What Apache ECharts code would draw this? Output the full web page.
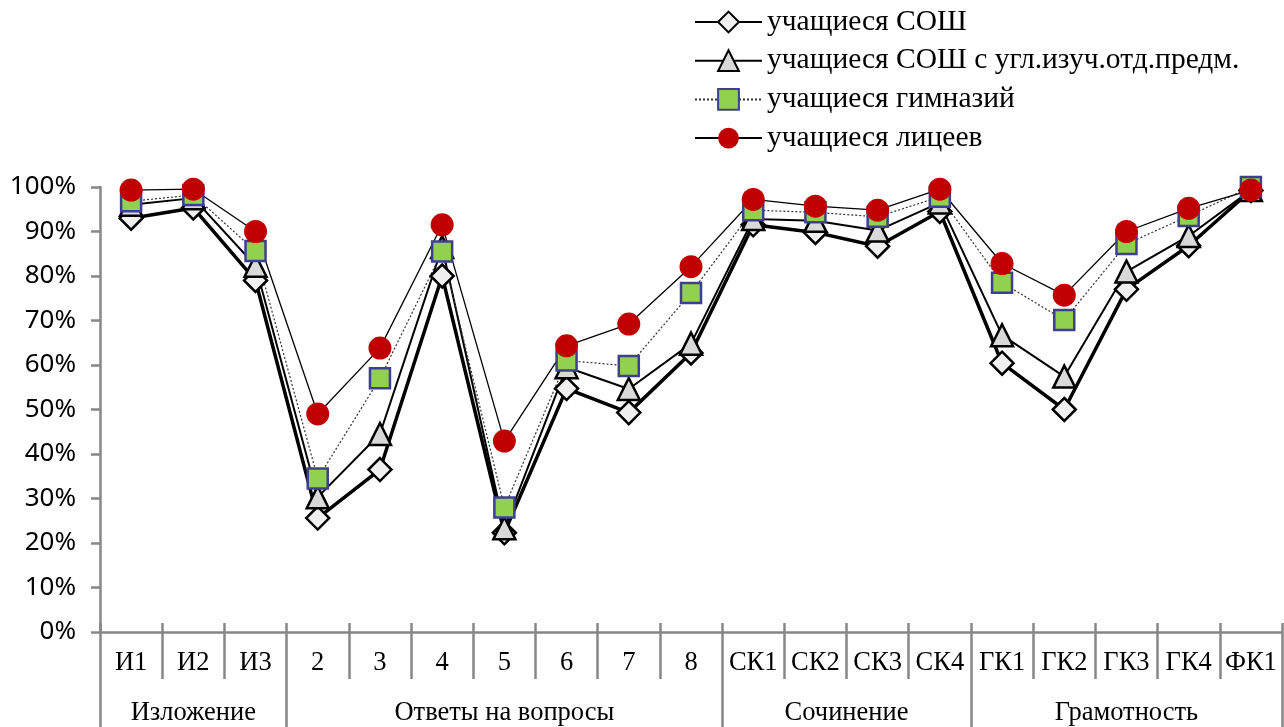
<!DOCTYPE html>
<html>
<head>
<meta charset="utf-8">
<script src="https://cdn.jsdelivr.net/npm/echarts@6/dist/echarts.min.js"></script>
<style>
html,body{margin:0;padding:0;background:#fff;}
#chart{width:1284px;height:727px;}
</style>
</head>
<body>
<div id="chart"></div>
<script>
const categories = ['И1','И2','И3','2','3','4','5','6','7','8','СК1','СК2','СК3','СК4','ГК1','ГК2','ГК3','ГК4','ФК1'];
const groups = ['Изложение','Ответы на вопросы','Сочинение','Грамотность'];
const groupSizes = [3,7,4,5];
const seriesNames = ['учащиеся СОШ','учащиеся СОШ с угл.изуч.отд.предм.','учащиеся гимназий','учащиеся лицеев'];
const sosh = [93, 95.3, 79, 25.6, 36.5, 80, 22.3, 54.7, 49.3, 62.7, 91.5, 89.8, 86.7, 94.5, 60.4, 50, 77, 86.8, 99.2];
const ugl  = [96, 97.5, 82.3, 30.3, 44.5, 86.5, 23.3, 59.5, 54.6, 64.8, 92.8, 92.4, 90.2, 96.5, 66.7, 57.4, 81, 89, 99.3];
const gimn = [96.8, 98.2, 85.6, 34.5, 57, 85.5, 28, 61, 59.8, 76.2, 94.8, 94.3, 93.3, 97.8, 78.5, 70.1, 87.2, 93.5, 100];
const lic  = [99.3, 99.5, 90, 49, 63.8, 91.5, 42.9, 64.3, 69.2, 82.1, 97.2, 95.7, 94.8, 99.5, 82.8, 75.7, 90, 95.2, 99.3];
const yTicks = {min:0, max:100, interval:10};

// half-slot axis for the group row
const halfSlots = new Array(categories.length*2+1).fill('');
const boundarySet = new Set([0]);
let cum = 0;
groups.forEach((g,i)=>{
  halfSlots[cum*2 + groupSizes[i]] = g;
  cum += groupSizes[i];
  boundarySet.add(cum*2);
});

const axisGray = '#878787';
const serifFont = '"Liberation Serif","Times New Roman",serif';

const chart = echarts.init(document.getElementById('chart'));
chart.setOption({
  animation:false,
  backgroundColor:'#fff',
  grid:{left:100,right:2,top:187,bottom:95,containLabel:false},
  legend:{
    orient:'vertical', left:689, top:2,
    itemWidth:67, itemHeight:26, itemGap:8.7,
    textStyle:{fontFamily:serifFont,fontSize:29.5,color:'#000',lineHeight:30},
    data:seriesNames
  },
  xAxis:[
    {type:'category',data:categories,boundaryGap:true,
     axisLine:{show:true,lineStyle:{color:axisGray,width:2.5}},
     axisTick:{show:true,interval:0,length:47,lineStyle:{color:axisGray,width:2.5}},
     axisLabel:{interval:0,margin:18,fontFamily:serifFont,fontSize:26.5,color:'#000'},
     splitLine:{show:false}},
    {type:'category',data:halfSlots,boundaryGap:false,position:'bottom',
     axisLine:{show:false},
     axisTick:{show:true,interval:(i)=>boundarySet.has(i),length:96,lineStyle:{color:axisGray,width:2.5}},
     axisLabel:{interval:(i,v)=>v!=='',margin:68,fontFamily:serifFont,fontSize:26.5,color:'#000'},
     splitLine:{show:false}},
    {type:'category',data:categories,boundaryGap:true,position:'bottom',
     axisLine:{show:false},
     axisTick:{show:true,inside:true,interval:0,length:9,lineStyle:{color:axisGray,width:2.5}},
     axisLabel:{show:false},splitLine:{show:false}}
  ],
  yAxis:{type:'value',min:yTicks.min,max:yTicks.max,interval:yTicks.interval,
    axisLine:{show:true,lineStyle:{color:axisGray,width:2.5}},
    axisTick:{show:true,length:9,lineStyle:{color:axisGray,width:2.5}},
    axisLabel:{margin:24,formatter:'{value}%',fontFamily:'"Noto Sans",sans-serif',fontSize:26,color:'#000'},
    splitLine:{show:false}},
  series:[
    {name:seriesNames[0],type:'line',data:sosh,xAxisIndex:0,
     symbol:'diamond',symbolSize:23,
     lineStyle:{color:'#000',width:3.5},
     itemStyle:{color:'#f0f0f0',borderColor:'#000',borderWidth:2.5}},
    {name:seriesNames[1],type:'line',data:ugl,xAxisIndex:0,
     symbol:'triangle',symbolSize:22,
     lineStyle:{color:'#000',width:2},
     itemStyle:{color:'#d9d9d9',borderColor:'#000',borderWidth:2.5}},
    {name:seriesNames[2],type:'line',data:gimn,xAxisIndex:0,
     symbol:'rect',symbolSize:20,
     lineStyle:{color:'#333',width:1.2,type:[2,2]},
     itemStyle:{color:'#92d050',borderColor:'#3f3f8f',borderWidth:2.5}},
    {name:seriesNames[3],type:'line',data:lic,xAxisIndex:0,
     symbol:'circle',symbolSize:23,
     lineStyle:{color:'#000',width:1.3},
     itemStyle:{color:'#c00000',borderWidth:0}}
  ]
});
</script>
</body>
</html>
